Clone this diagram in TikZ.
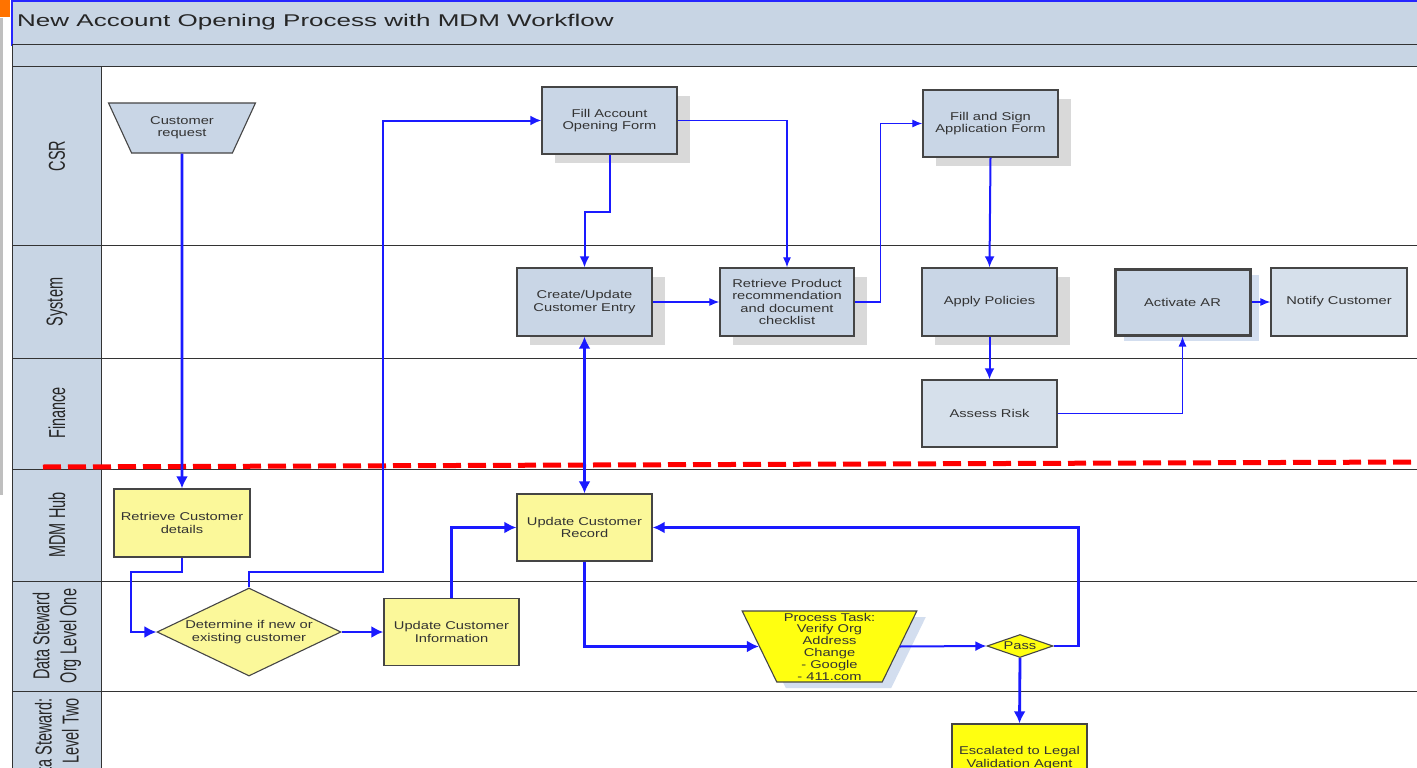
\documentclass[tikz,border=0pt]{standalone}
\usepackage{fontspec}
\setmainfont{Liberation Sans}
\newfontfamily\boxfont[FakeStretch=1.3]{Liberation Sans}
\newfontfamily\titlefont[FakeStretch=1.53]{Liberation Sans}
\newfontfamily\lanefont[FakeStretch=0.63]{Liberation Sans}
\usetikzlibrary{shapes.geometric,arrows.meta,shadows,calc}

\definecolor{lanegray}{HTML}{C8D5E4}
\definecolor{boxblue}{HTML}{C9D6E6}
\definecolor{paleblue}{HTML}{D6E0EB}
\definecolor{paleyellow}{HTML}{FBF89A}
\definecolor{brightyellow}{HTML}{FFFF10}
\definecolor{flowblue}{HTML}{1A1AFF}
\definecolor{edgegray}{HTML}{454545}
\definecolor{dashred}{HTML}{FF0000}
\definecolor{shadowblue}{HTML}{D3DEEF}

\tikzset{
  boxtext/.style={font=\boxfont\fontsize{11.3}{12.2}\selectfont, text=black!80, align=center},
  procbox/.style={boxtext, rectangle, draw=edgegray, line width=1.3pt, fill=boxblue,
    minimum width=135pt, minimum height=67pt, inner sep=1pt},
  grayshadow/.style={drop shadow={shadow xshift=13pt, shadow yshift=-9pt, fill=black!15, opacity=1}},
  blueshadow/.style={drop shadow={shadow xshift=9pt, shadow yshift=-6pt, fill=shadowblue, opacity=1}},
  mdmbox/.style={procbox, fill=paleyellow},
  trapbox/.style={boxtext, trapezium, trapezium stretches=true, shape border rotate=180,
    draw=edgegray, line width=1.1pt, inner sep=0pt},
  decision/.style={boxtext, diamond, draw=edgegray, line width=1.1pt, inner sep=0pt},
  lanelabel/.style={font=\lanefont\fontsize{23}{27}\selectfont, text=black!85, rotate=90,
    align=center, inner sep=0pt},
  thinflow/.style={draw=flowblue, line width=1.2pt, -{Latex[length=10pt,width=8pt]}},
  midflow/.style={draw=flowblue, line width=2pt, -{Latex[length=11pt,width=10pt]}},
  bigflow/.style={draw=flowblue, line width=2.8pt, -{Latex[length=12pt,width=12pt]}},
}

\begin{document}
\begin{tikzpicture}[x=1pt,y=-1pt]
  \useasboundingbox (0,0) rectangle (1417,768);
  \clip (0,0) rectangle (1417,768);
  \fill[white] (0,0) rectangle (1417,768);
  \fill[orange!90!red] (0,0) rectangle (10,17);
  \fill[black!25] (0,18) rectangle (3,495);

  \draw[draw=blue!85, fill=lanegray, line width=1.3pt] (12,1) rectangle (1430,45);
  \node[anchor=west, inner sep=0pt, font=\titlefont\fontsize{17}{20}\selectfont, text=black!85]
    (title) at (17,22) {New Account Opening Process with MDM Workflow};
  \draw[fill=lanegray, draw=black!80, line width=1pt] (12,45) rectangle (1430,67);

  \fill[lanegray] (12,67) rectangle (101,780);
  \foreach \y in {67,245,358,469,581,691}
    \draw[black!80, line width=1pt] (12,\y) -- (1430,\y);
  \draw[black!80, line width=1pt] (12,67) -- (12,780);
  \draw[black!80, line width=1pt] (101,67) -- (101,780);

  \node[lanelabel] (csr) at (57,156) {CSR};
  \node[lanelabel] (system) at (57,302) {System};
  \node[lanelabel] (finance) at (57,413) {Finance};
  \node[lanelabel] (hub) at (57,525) {MDM Hub};
  \node[lanelabel] (stewardone) at (57,636) {Data Steward\\Org Level One};
  \node[lanelabel, anchor=east, align=right] (stewardtwo) at (57,698) {Data Steward:\\Level Two};

  \draw[dashred, line width=5pt, dash pattern=on 18pt off 7pt] (43,467) -- (1417,462);

  \node[trapbox, fill=boxblue, trapezium left angle=57, trapezium right angle=57,
    minimum width=148pt, minimum height=50pt] (custreq) at (182,128) {Customer\\request};
  \node[procbox, grayshadow] (fillacct) at (609.5,120.5) {Fill Account\\Opening Form};
  \node[procbox, grayshadow] (fillsign) at (990.5,123.5) {Fill and Sign\\Application Form};

  \node[procbox, grayshadow, minimum height=68pt] (createupd) at (584.5,302) {Create/Update\\Customer Entry};
  \node[procbox, grayshadow, minimum height=68pt, minimum width=134pt] (retrprod) at (787,302)
    {Retrieve Product\\recommendation\\and document\\checklist};
  \node[procbox, grayshadow, minimum height=68pt] (applypol) at (989.5,302) {Apply Policies};
  \node[procbox, blueshadow, line width=3pt, minimum height=66pt, minimum width=135pt]
    (activar) at (1182.5,302) {Activate AR};
  \node[procbox, fill=paleblue, minimum height=68pt, minimum width=136pt] (notify) at (1339,302) {Notify Customer};

  \node[procbox, fill=paleblue] (assess) at (989.5,413.5) {Assess Risk};

  \node[mdmbox, minimum width=136pt, minimum height=68pt] (retrcust) at (182,523) {Retrieve Customer\\details};
  \node[mdmbox] (updrec) at (584.5,527.5) {Update Customer\\Record};

  \node[decision, fill=paleyellow, aspect=2.1, minimum width=184pt, minimum height=88pt]
    (determine) at (249,632) {Determine if new or\\existing customer};
  \node[mdmbox] (updinfo) at (451.5,632) {Update Customer\\Information};
  \node[trapbox, blueshadow, fill=brightyellow, trapezium left angle=66, trapezium right angle=66,
    minimum width=175pt, minimum height=71pt, font=\boxfont\fontsize{11.3}{11.8}\selectfont]
    (task) at (829.5,646.5) {Process Task:\\Verify Org\\Address\\Change\\- Google\\- 411.com};
  \node[decision, fill=brightyellow, aspect=2.9, minimum width=66pt, minimum height=23pt]
    (pass) at (1020,646) {Pass};

  \node[mdmbox, fill=brightyellow, minimum height=68pt] (escal) at (1019.5,758) {Escalated to Legal\\Validation Agent};

  \draw[bigflow] (custreq.south) -- (retrcust.north);
  \draw[bigflow] (retrcust.south) |- (131,572) |- (determine.west);
  \draw[midflow] (determine.north) |- (383,572) |- (fillacct.west);
  \draw[bigflow] (determine.east) -- (updinfo.west);
  \draw[bigflow] (updinfo.north) |- (updrec.west);
  \draw[midflow] (fillacct.south) -- ++(0,57) -| (createupd.north);
  \draw[thinflow] (fillacct.east) -| (retrprod.north);
  \draw[thinflow] (createupd.east) -- (retrprod.west);
  \draw[thinflow] (retrprod.east) -- ++(26,0) |- (fillsign.west);
  \draw[midflow] (fillsign.south) -- (applypol.north);
  \draw[midflow] (applypol.south) -- (assess.north);
  \draw[thinflow] (assess.east) -| (activar.south);
  \draw[thinflow] (activar.east) -- (notify.west);
  \draw[bigflow, {Latex[length=12pt,width=12pt]}-{Latex[length=12pt,width=12pt]}] (createupd.south) -- (updrec.north);
  \draw[bigflow] (updrec.south) |- (task.180);
  \draw[midflow] (task.0) -- (pass.west);
  \draw[bigflow] (pass.east) -- ++(25,0) |- (updrec.east);
  \draw[bigflow] (pass.south) -- (escal.north);
\end{tikzpicture}
\end{document}
